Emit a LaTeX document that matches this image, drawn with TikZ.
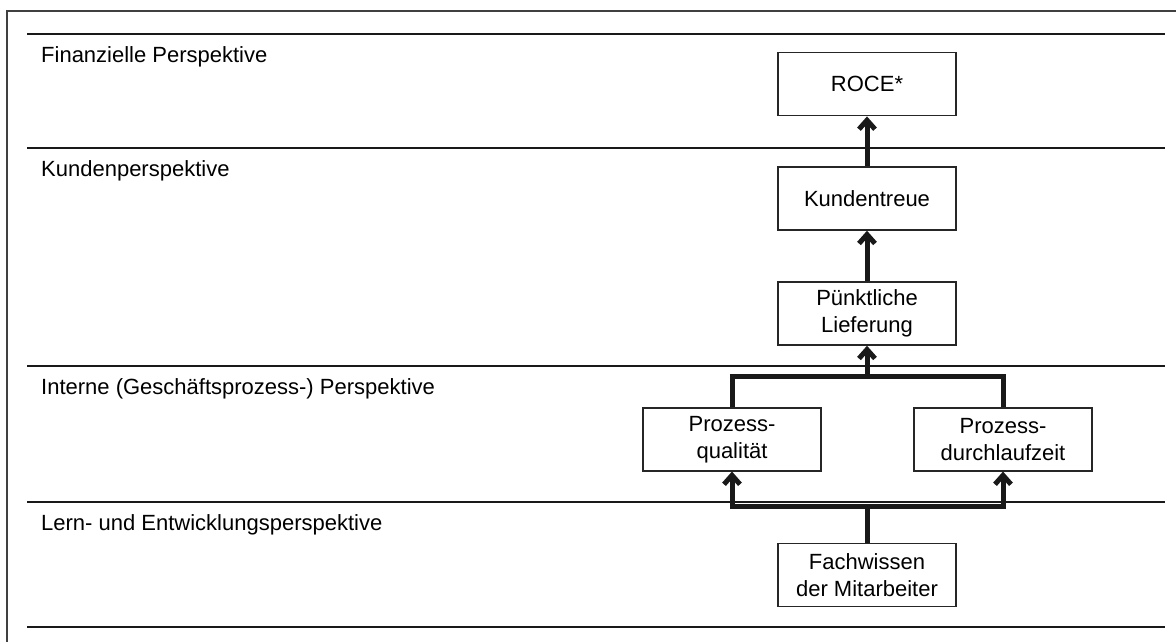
\documentclass[tikz,border=0pt]{standalone}
\usepackage{fontspec}
\setmainfont{Liberation Sans}
\usetikzlibrary{arrows.meta}
\begin{document}
\begin{tikzpicture}[x=1pt,y=-1pt,
  sep/.style={line width=2pt, draw=black!90},
  layer/.style={anchor=base west, inner sep=0pt, font=\fontsize{22}{27}\selectfont},
  box/.style={draw=black!85, line width=1.5pt, minimum width=178pt, minimum height=63pt,
              align=center, inner sep=0pt, font=\fontsize{22}{27}\selectfont, fill=white},
  link/.style={line width=5pt, draw=black!90},
  up/.style={link, -{Straight Barb[length=9pt,width=16pt]}}
]
\useasboundingbox (0,0) rectangle (1176,642);
\clip (0,0) rectangle (1176,642);

% outer frame
\draw[draw=black!75, line width=1.5pt] (7,11) rectangle (1200,680);

% perspective separators
\foreach \yy in {34,147.7,366,502,626.7}
  \draw[sep] (27,\yy) -- (1165,\yy);

% perspective titles
\node[layer] (t1) at (41,62.5)  {Finanzielle Perspektive};
\node[layer] (t2) at (41,176.5) {Kundenperspektive};
\node[layer] (t3) at (41,394.5) {Interne (Geschäftsprozess-) Perspektive};
\node[layer] (t4) at (41,530.5) {Lern- und Entwicklungsperspektive};

% measures
\node[box] (roce) at (867,84.2)  {ROCE*};
\node[box] (kt)   at (867,198.5) {Kundentreue};
\node[box] (pl)   at (867,313.5) {Pünktliche\\Lieferung};
\node[box] (pq)   at (732,439.3) {Prozess-\\qualität};
\node[box] (pd)   at (1003,439.3) {Prozess-\\durchlaufzeit};
\node[box] (fw)   at (867,575)   {Fachwissen\\der Mitarbeiter};

% cause-and-effect links
\coordinate (jt) at (867,376.5);
\coordinate (jb) at (867,506.7);
\draw[up] (kt.north) -- (roce.south);
\draw[up] (pl.north) -- (kt.south);
\draw[link] (pq.north) |- (jt) -| (pd.north);
\draw[up] (jt) -- (pl.south);
\draw[link] (fw.north) -- (jb);
\draw[up] (jb) -| (pq.south);
\draw[up] (jb) -| (pd.south);
\end{tikzpicture}
\end{document}
